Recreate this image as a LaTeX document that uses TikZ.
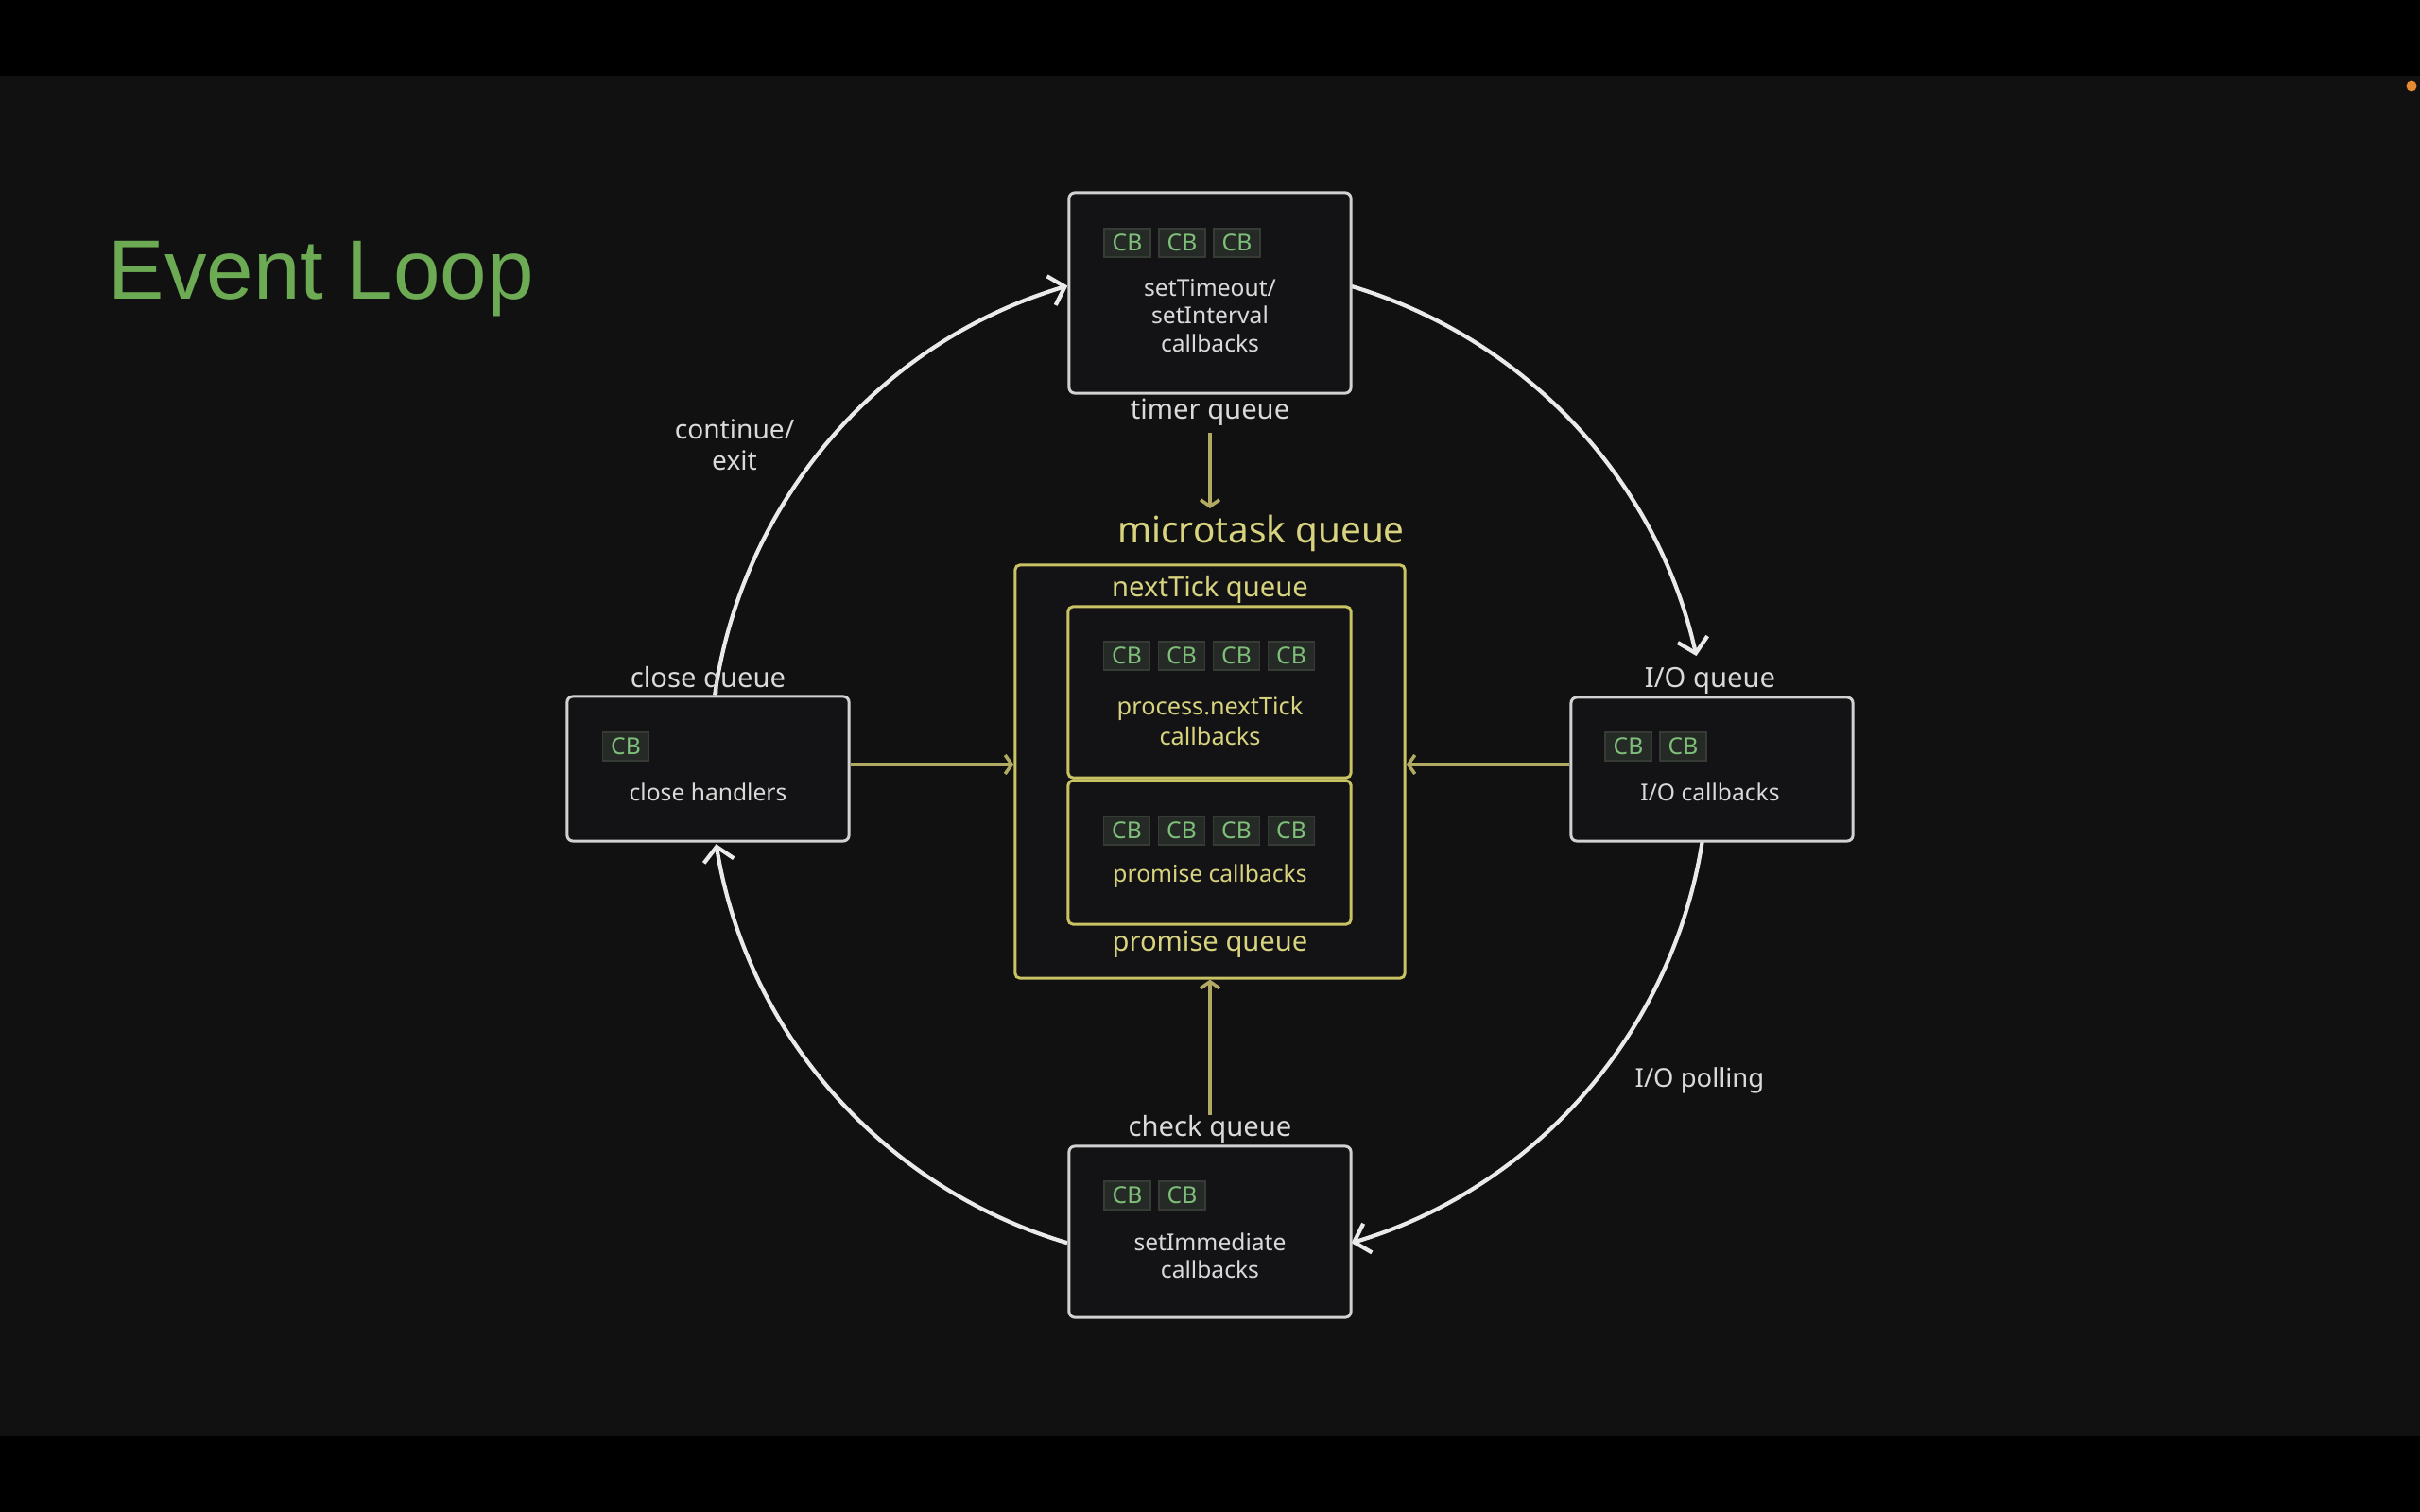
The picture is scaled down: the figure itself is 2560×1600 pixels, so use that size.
\documentclass[tikz,border=0pt]{standalone}
\usepackage{fontspec}
\setmainfont{Noto Sans}
\newfontfamily\titlefont{Liberation Sans}
\usetikzlibrary{arrows.meta,calc}

\definecolor{bgc}{HTML}{111111}
\definecolor{boxfill}{HTML}{131315}
\definecolor{boxline}{HTML}{D2D2D2}
\definecolor{wline}{HTML}{EAEAEA}
\definecolor{wtext}{HTML}{DADADA}
\definecolor{ylw}{HTML}{C9C364}
\definecolor{ytext}{HTML}{D8D37E}
\definecolor{arrolive}{HTML}{B1AA62}
\definecolor{chipfill}{HTML}{262A26}
\definecolor{chipline}{HTML}{363B36}
\definecolor{chiptext}{HTML}{7EC07A}
\definecolor{titlegreen}{HTML}{6CAB54}
\definecolor{dotorange}{HTML}{E58B32}

\begin{document}
\begin{tikzpicture}[x=0.01cm,y=0.01cm,
  box/.style={draw=boxline, fill=boxfill, line width=0.85pt, rounded corners=0.06cm, minimum width=2.98cm, inner sep=0pt},
  ybox/.style={draw=ylw, fill=boxfill, line width=0.85pt, rounded corners=0.05cm, inner sep=0pt},
  chip/.style={draw=chipline, fill=chipfill, line width=0.4pt, minimum width=0.49cm, minimum height=0.30cm, inner sep=0pt, text=chiptext, font=\fontsize{7}{8}\selectfont},
  qlabel/.style={text=wtext, font=\fontsize{8.3}{10}\selectfont, inner sep=0pt},
  ylabel/.style={qlabel, text=ytext},
  intext/.style={text=wtext, font=\fontsize{7}{8.3}\selectfont, align=center, inner sep=0pt},
  yintext/.style={intext, text=ytext},
  warr/.style={draw=wline, line width=1.2pt, -{Straight Barb[length=0.15cm,width=0.32cm]}},
  oarr/.style={draw=arrolive, line width=1pt, -{Straight Barb[length=0.07cm,width=0.2cm]}}
]
% background
\fill[black] (0,0) rectangle (2560,-1600);
\fill[bgc] (0,-80) rectangle (2560,-1520);
\useasboundingbox (0,0) rectangle (2560,-1600);

% recording dot
\fill[dotorange] (2551,-91) circle[radius=0.055cm];

% title
\node[anchor=base west, inner sep=0pt, text=titlegreen, font=\titlefont\fontsize{25.3}{30}\selectfont] (title) at (114,-317) {Event Loop};

% loop centre
\coordinate (O) at (1279,-809);
\coordinate (a1s) at ($(O)+(172:528)$);
\coordinate (a2s) at ($(O)+(73.5:528)$);
\coordinate (a3s) at ($(O)+(-8.8:528)$);
\coordinate (a4s) at ($(O)+(-106.5:528)$);

% white loop arcs
\draw[warr] (a1s) arc[start angle=172, end angle=106.5, radius=5.28cm];
\draw[warr] (a2s) arc[start angle=73.5, end angle=12.6, radius=5.28cm];
\draw[warr] (a3s) arc[start angle=-8.8, end angle=-73.4, radius=5.28cm];
\draw[warr] (a4s) arc[start angle=-106.5, end angle=-170.8, radius=5.28cm];

% ---- timer queue
\node[box, minimum height=2.12cm] (T) at (1280,-310) {};
\node[chip] (t1) at (1192.5,-257) {CB};
\node[chip] (t2) at (1250.5,-257) {CB};
\node[chip] (t3) at (1308.5,-257) {CB};
\node[intext] (tt) at (1280,-334) {setTimeout/\\setInterval\\callbacks};
\node[qlabel] (tq) at (1280,-436) {timer queue};

% ---- close queue
\node[box, minimum height=1.53cm] (C) at (749,-813.5) {};
\node[chip] (c1) at (662,-790) {CB};
\node[intext] (ct) at (749,-838) {close handlers};
\node[qlabel] (cq) at (749,-720) {close queue};

% ---- I/O queue
\node[box, minimum height=1.52cm] (IO) at (1811,-814) {};
\node[chip] (i1) at (1722.5,-790) {CB};
\node[chip] (i2) at (1780.5,-790) {CB};
\node[intext] (it) at (1809,-838) {I/O callbacks};
\node[qlabel] (iq) at (1809,-720) {I/O queue};

% ---- check queue
\node[box, minimum height=1.81cm] (K) at (1280,-1303.5) {};
\node[chip] (k1) at (1192.5,-1265) {CB};
\node[chip] (k2) at (1250.5,-1265) {CB};
\node[intext] (kt) at (1280,-1329) {setImmediate\\callbacks};
\node[qlabel] (kq) at (1280,-1195) {check queue};

% ---- microtask queue
\node[ybox, minimum width=4.12cm, minimum height=4.37cm] (M) at (1280,-816.5) {};
\node[ylabel, font=\fontsize{11}{13}\selectfont] (mq) at (1334,-564) {microtask queue};
\node[ylabel] (nq) at (1280,-624) {nextTick queue};
\node[ybox, minimum width=2.99cm, minimum height=1.81cm] (N) at (1279.5,-732.5) {};
\node[chip] (n1) at (1192,-694) {CB};
\node[chip] (n2) at (1250,-694) {CB};
\node[chip] (n3) at (1308,-694) {CB};
\node[chip] (n4) at (1366,-694) {CB};
\node[yintext, font=\fontsize{7.2}{9}\selectfont] (nt) at (1280,-763) {process.nextTick\\callbacks};
\node[ybox, minimum width=2.99cm, minimum height=1.52cm] (P) at (1279.5,-902) {};
\node[chip] (p1) at (1192,-879) {CB};
\node[chip] (p2) at (1250,-879) {CB};
\node[chip] (p3) at (1308,-879) {CB};
\node[chip] (p4) at (1366,-879) {CB};
\node[yintext] (pt) at (1280,-927) {promise callbacks};
\node[ylabel] (pq) at (1280,-999) {promise queue};

% olive connectors
\draw[oarr] ([yshift=-0.07cm]tq.south) -- ([yshift=0.06cm]tq.south |- mq.north);
\draw[oarr] (kq.north) -- (kq.north |- M.south);
\draw[oarr] ([yshift=0.045cm]C.east) -- ([yshift=0.045cm]C.east -| M.west);
\draw[oarr] ([yshift=0.05cm]IO.west) -- ([yshift=0.05cm]IO.west -| M.east);

% free labels
\node[qlabel, font=\fontsize{8}{9.5}\selectfont, align=center] (ce) at (777,-471) {continue/\\exit};
\node[qlabel, font=\fontsize{7.8}{9}\selectfont] (iop) at (1798,-1143) {I/O polling};
\end{tikzpicture}
\end{document}
